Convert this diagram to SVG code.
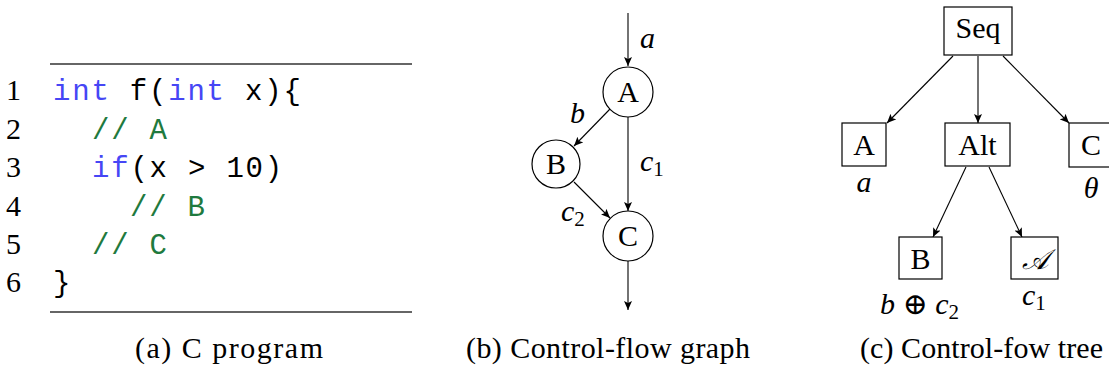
<svg xmlns="http://www.w3.org/2000/svg" width="1109" height="381" viewBox="0 0 1109 381">
<style>
.serif{font-family:'Liberation Serif',serif;font-size:30px;fill:#000}
.it{font-style:italic}
.sub{font-size:21px}
.mono{font-family:'Liberation Mono',monospace;font-size:29px;letter-spacing:1.8px;fill:#000}
.kw{fill:#4646f5}
.cm{fill:#1f7a3e}
.rule{stroke:#333;stroke-width:1.3}
.node{fill:#fff;stroke:#000;stroke-width:1.2}
.edge{stroke:#000;stroke-width:1.1;fill:none;marker-end:url(#arr)}
.c{text-anchor:middle}
</style>
<defs>
<marker id="arr" markerWidth="10" markerHeight="8" refX="9" refY="4" orient="auto" markerUnits="userSpaceOnUse">
<path d="M0,0 L9,4 L0,8 L2,4 Z" fill="#000"/>
</marker>
</defs>

<g id="code">
<line class="rule" x1="50" y1="64" x2="412" y2="64"/>
<line class="rule" x1="50" y1="312" x2="412" y2="312"/>
<g class="serif" text-anchor="end">
<text x="21" y="100">1</text>
<text x="21" y="139">2</text>
<text x="21" y="177">3</text>
<text x="21" y="216">4</text>
<text x="21" y="254">5</text>
<text x="21" y="292">6</text>
</g>
<g class="mono" xml:space="preserve">
<text x="53" y="100"><tspan class="kw">int</tspan> f(<tspan class="kw">int</tspan> x){</text>
<text x="92" y="139" class="cm">// A</text>
<text x="92" y="177"><tspan class="kw">if</tspan>(x &gt; 10)</text>
<text x="130" y="216" class="cm">// B</text>
<text x="92" y="254" class="cm">// C</text>
<text x="53" y="292">}</text>
</g>
</g>

<g id="cfg-edges">
<line class="edge" x1="628" y1="13" x2="628" y2="66"/>
<line class="edge" x1="610" y1="109" x2="574" y2="146"/>
<line class="edge" x1="628" y1="117" x2="628" y2="211"/>
<line class="edge" x1="574" y1="182" x2="610" y2="218"/>
<line class="edge" x1="628" y1="261" x2="628" y2="310"/>
</g>
<g id="cfg-A"><circle class="node" cx="628" cy="92" r="25"/><text class="serif c" x="628" y="102">A</text></g>
<g id="cfg-B"><circle class="node" cx="556" cy="164" r="24"/><text class="serif c" x="556" y="174">B</text></g>
<g id="cfg-C"><circle class="node" cx="628" cy="236" r="25"/><text class="serif c" x="628" y="246">C</text></g>
<g id="cfg-labels" class="serif it">
<text x="640" y="48">a</text>
<text x="570" y="123">b</text>
<text x="640" y="171">c<tspan class="sub" style="font-style:normal" dy="5">1</tspan></text>
<text x="561" y="221">c<tspan class="sub" style="font-style:normal" dy="5">2</tspan></text>
</g>

<g id="tree-edges">
<line class="edge" x1="953" y1="56" x2="887" y2="123"/>
<line class="edge" x1="978" y1="56" x2="978" y2="123"/>
<line class="edge" x1="1003" y1="56" x2="1069" y2="123"/>
<line class="edge" x1="966" y1="167" x2="933" y2="237"/>
<line class="edge" x1="989" y1="167" x2="1022" y2="237"/>
</g>
<g id="t-Seq"><rect class="node" x="944" y="7" width="68" height="48"/><text class="serif c" x="978" y="38">Seq</text></g>
<g id="t-A"><rect class="node" x="842" y="123" width="44" height="43"/><text class="serif c" x="864" y="155">A</text></g>
<g id="t-Alt"><rect class="node" x="945" y="123" width="65" height="43"/><text class="serif c" x="977.5" y="155">Alt</text></g>
<g id="t-C"><rect class="node" x="1069" y="123" width="44" height="44"/><text class="serif c" x="1091" y="155">C</text></g>
<g id="t-B"><rect class="node" x="899" y="237" width="43" height="42"/><text class="serif c" x="920.5" y="269">B</text></g>
<g id="t-cA"><rect class="node" x="1011" y="237" width="47" height="42"/><text class="serif c it" x="1034.5" y="269" style="font-size:28px">𝒜</text></g>
<g id="tree-labels" class="serif">
<text class="it c" x="864" y="192">a</text>
<text class="it c" x="1091" y="198">θ</text>
<text x="880" y="314"><tspan class="it">b</tspan> <tspan style="font-family:'DejaVu Serif',serif;font-size:30px">⊕</tspan> <tspan class="it">c</tspan><tspan class="sub" dy="5">2</tspan></text>
<text x="1022" y="305"><tspan class="it">c</tspan><tspan class="sub" dy="5">1</tspan></text>
</g>

<g id="captions" class="serif">
<text x="135" y="358" textLength="188" lengthAdjust="spacing">(a) C program</text>
<text x="466" y="358" textLength="284" lengthAdjust="spacing">(b) Control-flow graph</text>
<text x="860" y="358" textLength="243" lengthAdjust="spacing">(c) Control-fow tree</text>
</g>
</svg>
